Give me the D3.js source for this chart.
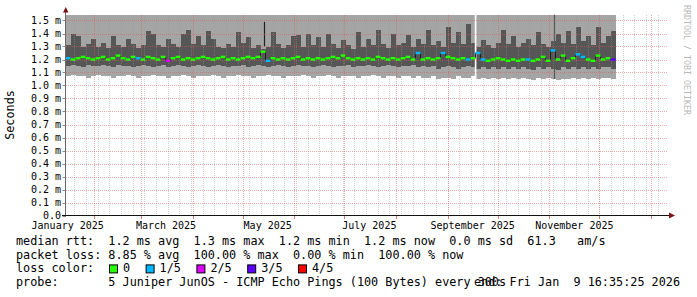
<!DOCTYPE html>
<html>
<head>
<meta charset="utf-8">
<script src="https://cdn.jsdelivr.net/npm/d3@7"></script>
<style>
body { margin: 0; background: #fff; }
svg { display: block; }
text { font-family: "DejaVu Sans Mono", monospace; }
</style>
</head>
<body>
<script>
// graph window and sampling
var width = 697, height = 297;
var startTime = new Date("2025-01-14T16:35:25Z");
var endTime = new Date("2026-01-09T16:35:25Z");
var stepDays = 3;

// smoke: upper edge of the inner (dark) band, in ms
var darkTop = [1.31,1.40,1.38,1.30,1.32,1.36,1.30,1.33,1.29,1.38,
  1.31,1.30,1.36,1.32,1.29,1.31,1.42,1.40,1.31,1.30,
  1.36,1.32,1.30,1.40,1.43,1.32,1.38,1.31,1.42,1.36,
  1.30,1.29,1.32,1.30,1.41,1.33,1.37,1.29,1.31,1.28,
  1.30,1.41,1.32,1.29,1.31,1.38,1.39,1.30,1.40,1.31,
  1.37,1.30,1.40,1.32,1.29,1.35,1.31,1.28,1.41,1.30,
  1.36,1.31,1.43,1.32,1.29,1.40,1.31,1.33,1.39,1.30,
  1.36,1.32,1.43,1.31,1.34,1.30,1.45,1.33,1.41,1.32,
  1.47,1.33,1.30,1.35,1.31,1.29,1.33,1.43,1.32,1.38,
  1.30,1.33,1.36,1.31,1.41,1.32,1.30,1.34,1.40,1.33,
  1.42,1.32,1.45,1.34,1.38,1.31,1.45,1.33,1.38,1.42];

// smoke: lower edge of the inner band
var darkBottom = [1.15,1.16,1.15,1.14,1.16,1.15,1.15,1.16,1.15,1.14,
  1.16,1.15,1.15,1.14,1.15,1.16,1.15,1.14,1.15,1.16,
  1.14,1.15,1.16,1.15,1.14,1.15,1.16,1.15,1.14,1.15,
  1.16,1.15,1.14,1.15,1.15,1.16,1.14,1.15,1.16,1.15,
  1.14,1.15,1.16,1.15,1.14,1.15,1.16,1.15,1.15,1.14,
  1.15,1.16,1.15,1.14,1.15,1.15,1.16,1.14,1.15,1.15,
  1.16,1.15,1.14,1.15,1.16,1.15,1.14,1.15,1.15,1.16,
  1.14,1.15,1.14,1.15,1.13,1.14,1.15,1.14,1.13,1.14,
  1.15,1.14,1.13,1.14,1.13,1.14,1.13,1.14,1.13,1.14,
  1.13,1.14,1.13,1.12,1.14,1.13,1.14,1.13,1.12,1.14,
  1.13,1.14,1.13,1.14,1.13,1.14,1.13,1.14,1.14,1.13];

// smoke: fastest ping (outer band bottom); outer band top is above the graph
var lightBottom = [1.07,1.08,1.07,1.07,1.06,1.07,1.08,1.07,1.07,1.06,
  1.07,1.07,1.08,1.07,1.06,1.07,1.07,1.08,1.07,1.07,
  1.06,1.07,1.07,1.08,1.07,1.06,1.07,1.07,1.07,1.08,
  1.07,1.06,1.07,1.07,1.08,1.07,1.07,1.06,1.07,1.07,
  1.08,1.07,1.07,1.06,1.07,1.07,1.07,1.08,1.07,1.06,
  1.07,1.07,1.08,1.07,1.06,1.07,1.07,1.07,1.06,1.07,
  1.07,1.08,1.07,1.06,1.07,1.07,1.06,1.07,1.07,1.06,
  1.07,1.06,1.06,1.07,1.05,1.06,1.06,1.05,1.07,1.06,
  1.06,1.07,1.05,1.06,1.05,1.06,1.05,1.06,1.05,1.06,
  1.05,1.06,1.05,1.04,1.06,1.05,1.06,1.05,1.04,1.05,
  1.05,1.06,1.05,1.06,1.05,1.06,1.05,1.06,1.06,1.05];

// median rtt, ms
var median = [1.21,1.20,1.21,1.22,1.21,1.20,1.21,1.22,1.20,1.21,
  1.23,1.21,1.20,1.22,1.21,1.20,1.22,1.21,1.20,1.22,
  1.19,1.21,1.22,1.20,1.21,1.20,1.21,1.22,1.21,1.20,
  1.21,1.22,1.20,1.21,1.20,1.21,1.22,1.21,1.22,1.26,
  1.19,1.21,1.20,1.21,1.20,1.21,1.22,1.20,1.21,1.20,
  1.21,1.20,1.21,1.22,1.21,1.23,1.21,1.20,1.21,1.20,
  1.21,1.20,1.22,1.21,1.20,1.21,1.20,1.21,1.22,1.20,
  1.25,1.20,1.21,1.20,1.21,1.25,1.22,1.21,1.20,1.21,
  1.20,1.21,1.25,1.20,1.19,1.20,1.21,1.20,1.19,1.20,
  1.19,1.20,1.20,1.19,1.20,1.22,1.19,1.27,1.20,1.23,
  1.19,1.21,1.24,1.22,1.20,1.19,1.23,1.20,1.21,1.20];

// lost pings out of 5
var loss = [1,0,0,0,0,0,0,0,0,0,
  0,0,0,0,1,0,0,0,0,0,
  2,0,0,0,0,0,0,0,0,0,
  0,0,0,0,0,0,0,0,0,0,
  1,0,0,0,0,0,0,0,0,0,
  0,0,0,0,0,0,0,0,0,0,
  0,0,0,0,0,0,0,0,0,0,
  1,0,0,0,0,1,0,0,0,0,
  1,0,1,1,0,0,0,0,0,0,
  0,0,1,0,0,0,0,1,0,0,
  0,0,1,1,0,0,0,0,0,3];

// single-column spikes and the data gap
var spikeTimes = ["2025-05-13T12:00:00Z", "2025-11-03T18:00:00Z"];
var spikeLow = [1.30, 1.05];
var spikeHigh = [1.49, 1.545];
var spikeKind = ["median", "smoke"];
var gapStart = ["2025-09-17T06:00:00Z"];
var gapEnd = ["2025-09-18T06:00:00Z"];

// axes
var yTicks = [0,0.1,0.2,0.3,0.4,0.5,0.6,0.7,0.8,0.9,1.0,1.1,1.2,1.3,1.4,1.5];
var yTickLabels = ["0.0","0.1 m","0.2 m","0.3 m","0.4 m","0.5 m","0.6 m","0.7 m","0.8 m","0.9 m","1.0 m","1.1 m","1.2 m","1.3 m","1.4 m","1.5 m"];
var xLabelDates = ["2025-01-01","2025-03-01","2025-05-01","2025-07-01","2025-09-01","2025-11-01"];
var xLabelTexts = ["January 2025","March 2025","May 2025","July 2025","September 2025","November 2025"];

// legend
var lossLabels = ["0","1/5","2/5","3/5","4/5"];
var lossColors = ["#26ff00","#00b8ff","#dd00ff","#5e00ff","#ff0000"];
var legendRows = [
  "median rtt:  1.2 ms avg  1.3 ms max  1.2 ms min  1.2 ms now  0.0 ms sd  61.3   am/s",
  "packet loss: 8.85 % avg  100.00 % max  0.00 % min  100.00 % now",
  "loss color:",
  "probe:       5 Juniper JunOS - ICMP Echo Pings (100 Bytes) every 300s"
];
var endLabel = "end: Fri Jan  9 16:35:25 2026";

var x = d3.scaleUtc().domain([startTime, endTime]).range([65.5, 665.5]);
var y = d3.scaleLinear().domain([0, 1.545]).range([215.5, 14.65]);
var yTop = y(y.domain()[1]);

var samples = median.map(function(m, i) {
  return {
    t0: d3.utcDay.offset(startTime, i * stepDays),
    t1: d3.utcDay.offset(startTime, (i + 1) * stepDays),
    median: m, dTop: darkTop[i], dBot: darkBottom[i], lBot: lightBottom[i], loss: loss[i]
  };
});

var svg = d3.select("body").append("svg").attr("width", width).attr("height", height);

// outer smoke (top clipped at graph top)
svg.append("g").selectAll("rect").data(samples).enter().append("rect")
  .attr("x", function(d) { return x(d.t0); })
  .attr("width", function(d) { return x(d.t1) - x(d.t0); })
  .attr("y", yTop)
  .attr("height", function(d) { return y(d.lBot) - yTop; })
  .attr("fill", "#a5a5a5")
  .attr("shape-rendering", "crispEdges");

// inner smoke
svg.append("g").selectAll("rect").data(samples).enter().append("rect")
  .attr("x", function(d) { return x(d.t0); })
  .attr("width", function(d) { return x(d.t1) - x(d.t0); })
  .attr("y", function(d) { return y(d.dTop); })
  .attr("height", function(d) { return y(d.dBot) - y(d.dTop); })
  .attr("fill", "#565656")
  .attr("shape-rendering", "crispEdges");

// spikes
spikeTimes.forEach(function(t, i) {
  var sx = Math.round(x(new Date(t))) + 0.5;
  svg.append("line")
    .attr("x1", sx).attr("x2", sx)
    .attr("y1", y(spikeHigh[i])).attr("y2", y(spikeLow[i]))
    .attr("stroke", spikeKind[i] == "median" ? "#202020" : "#565656")
    .attr("stroke-width", 1.2);
});

// no data
gapStart.forEach(function(t, i) {
  var g0 = x(new Date(t)), g1 = x(new Date(gapEnd[i]));
  svg.append("rect").attr("x", g0).attr("width", g1 - g0)
    .attr("y", yTop).attr("height", y(0) - yTop).attr("fill", "#fff");
});

// grid (dotted)
function gridLine(sel, color) {
  sel.attr("stroke", color).attr("stroke-width", 1)
    .attr("stroke-dasharray", "1,1").attr("shape-rendering", "crispEdges");
}
var grid = svg.append("g");
grid.selectAll(".minor").data(d3.utcMonday.range(startTime, endTime)).enter().append("line")
  .attr("x1", function(d) { return Math.round(x(d)) + 0.5; })
  .attr("x2", function(d) { return Math.round(x(d)) + 0.5; })
  .attr("y1", yTop).attr("y2", y(0))
  .call(gridLine, "rgba(150,150,150,0.45)");
grid.selectAll(".major").data(d3.utcMonth.range(startTime, endTime)).enter().append("line")
  .attr("x1", function(d) { return Math.round(x(d)) + 0.5; })
  .attr("x2", function(d) { return Math.round(x(d)) + 0.5; })
  .attr("y1", yTop).attr("y2", y(0))
  .call(gridLine, "rgba(220,90,90,0.5)");
grid.selectAll(".hmajor").data(yTicks.slice(1)).enter().append("line")
  .attr("x1", 66).attr("x2", 667)
  .attr("y1", function(d) { return Math.round(y(d)) + 0.5; })
  .attr("y2", function(d) { return Math.round(y(d)) + 0.5; })
  .call(gridLine, "rgba(220,90,90,0.5)");

// median: dark step line, then loss-coloured segments
var medPts = samples.map(function(d) { return [x(d.t0), y(d.median)]; });
var last = samples[samples.length - 1];
medPts.push([x(last.t1), y(last.median)]);
svg.append("path")
  .attr("d", d3.line().curve(d3.curveStepAfter)(medPts))
  .attr("fill", "none").attr("stroke", "#202020").attr("stroke-width", 1);
svg.append("g").selectAll("rect").data(samples).enter().append("rect")
  .attr("x", function(d) { return x(d.t0); })
  .attr("width", function(d) { return x(d.t1) - x(d.t0); })
  .attr("y", function(d) { return y(d.median) - 1.2; })
  .attr("height", 2.4)
  .attr("fill", function(d) { return lossColors[d.loss]; });

// axes
svg.append("line").attr("x1", 65.5).attr("x2", 65.5).attr("y1", 217).attr("y2", 11)
  .attr("stroke", "#666");
svg.append("line").attr("x1", 62).attr("x2", 670).attr("y1", 215.5).attr("y2", 215.5)
  .attr("stroke", "#111");
svg.append("path").attr("d", "M63,12.5L68.5,12.5L65.75,7Z").attr("fill", "#7f1010");
svg.append("path").attr("d", "M669,212.5L669,218.5L675,215.5Z").attr("fill", "#7f1010");

svg.append("g").selectAll("line").data(yTicks).enter().append("line")
  .attr("x1", 62.5).attr("x2", 65.5)
  .attr("y1", function(d) { return Math.round(y(d)) + 0.5; })
  .attr("y2", function(d) { return Math.round(y(d)) + 0.5; })
  .attr("stroke", "#888");
svg.append("g").selectAll("line").data(d3.utcMonth.range(startTime, endTime)).enter().append("line")
  .attr("x1", function(d) { return Math.round(x(d)) + 0.5; })
  .attr("x2", function(d) { return Math.round(x(d)) + 0.5; })
  .attr("y1", 216).attr("y2", 219)
  .attr("stroke", "#d08080");

svg.append("g").selectAll("text").data(yTicks).enter().append("text")
  .attr("x", 61).attr("y", function(d) { return y(d) + 3.6; })
  .attr("text-anchor", "end").attr("font-size", "10px").attr("fill", "#000")
  .text(function(d, i) { return yTickLabels[i]; });

svg.append("g").selectAll("text").data(xLabelDates).enter().append("text")
  .attr("x", function(d) { return x(d3.utcDay.offset(new Date(d + "T00:00:00Z"), 15)); })
  .attr("y", 229)
  .attr("text-anchor", "middle").attr("font-size", "10px").attr("fill", "#000")
  .text(function(d, i) { return xLabelTexts[i]; });

svg.append("text").attr("transform", "translate(14,115) rotate(-90)")
  .attr("text-anchor", "middle").attr("font-size", "11.8px").text("Seconds");

svg.append("text").attr("transform", "translate(684,5) rotate(90)")
  .attr("font-size", "8.3px").attr("fill", "#b8b8b8").text("RRDTOOL / TOBI OETIKER");

// legend
var rowY = [245, 258.7, 272.4, 286.1];
legendRows.forEach(function(s, i) {
  svg.append("text").attr("x", 16).attr("y", rowY[i])
    .attr("font-size", "11.8px").attr("xml:space", "preserve").style("white-space", "pre")
    .text(s);
});
var lx = 109;
lossLabels.forEach(function(s, i) {
  svg.append("rect").attr("x", lx + 0.5).attr("y", rowY[2] - 7.5).attr("width", 8).attr("height", 8)
    .attr("fill", lossColors[i]).attr("stroke", "#000").attr("stroke-width", 1);
  svg.append("text").attr("x", lx + 14).attr("y", rowY[2]).attr("font-size", "11.8px").text(s);
  lx += 14 + 7.1 * s.length + 15.5;
});
svg.append("text").attr("x", 680).attr("y", rowY[3]).attr("text-anchor", "end")
  .attr("font-size", "11.8px").attr("xml:space", "preserve").style("white-space", "pre")
  .text(endLabel);
</script>
</body>
</html>
